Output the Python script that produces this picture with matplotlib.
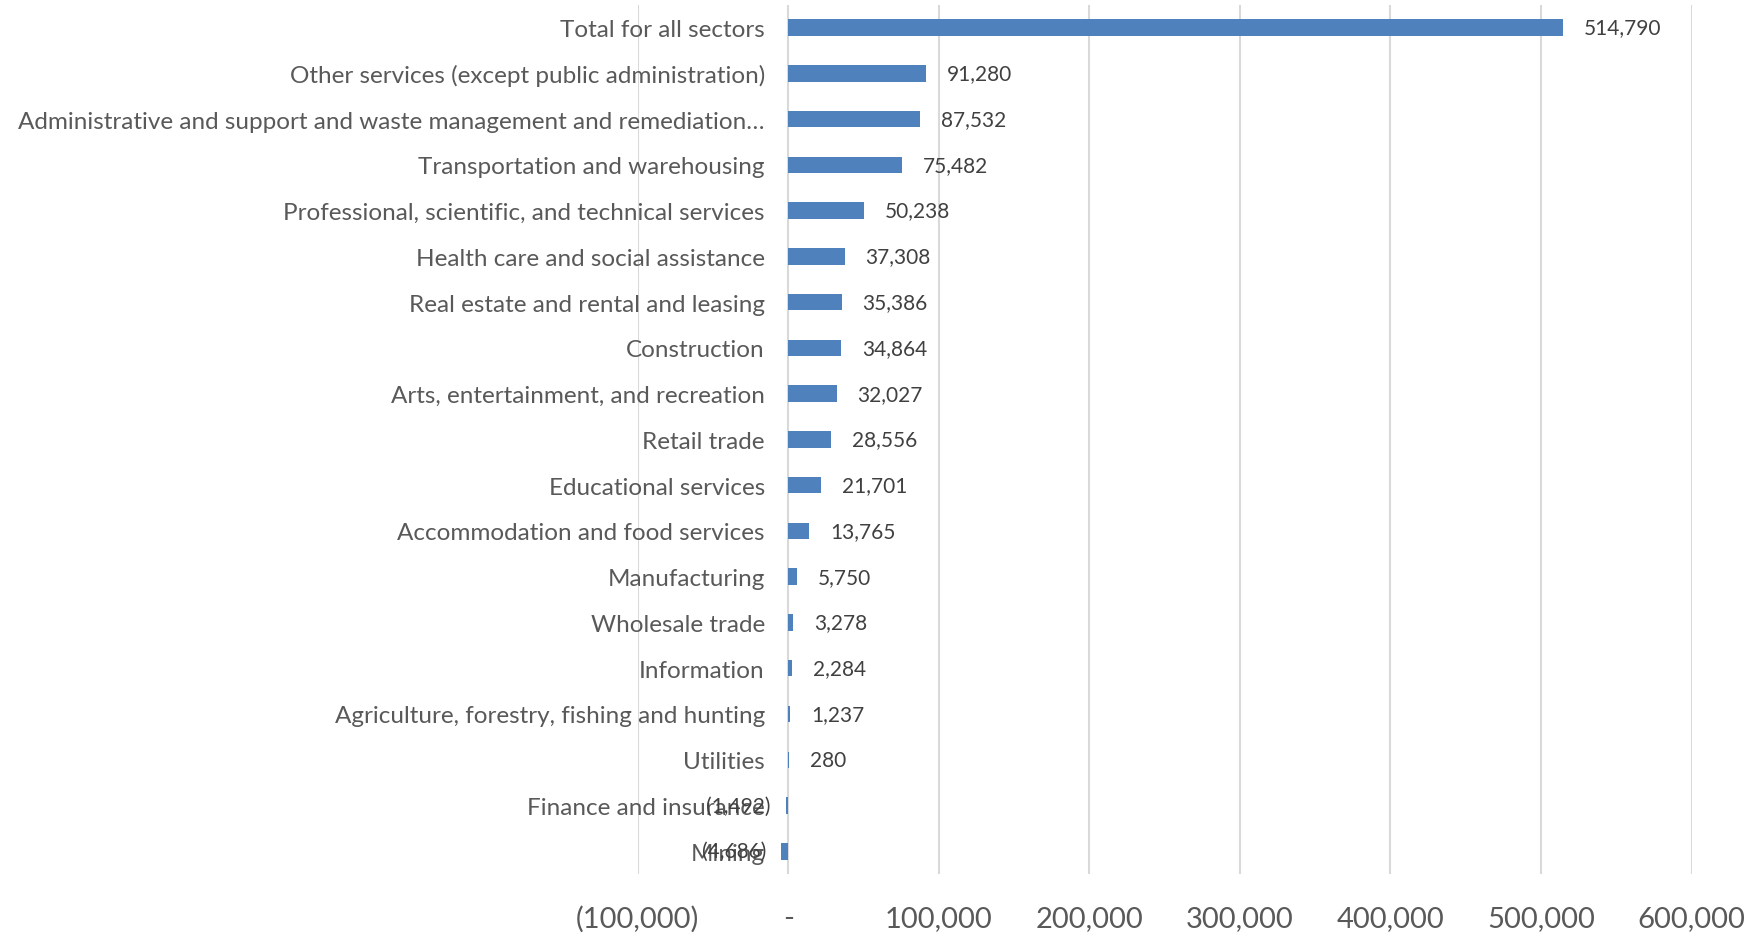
import matplotlib.pyplot as plt
from matplotlib.ticker import FuncFormatter

plt.rcParams['font.family'] = ['Lato', 'DejaVu Sans']

sectors = [
    "Total for all sectors",
    "Other services (except public administration)",
    "Administrative and support and waste management and remediation\u2026",
    "Transportation and warehousing",
    "Professional, scientific, and technical services",
    "Health care and social assistance",
    "Real estate and rental and leasing",
    "Construction",
    "Arts, entertainment, and recreation",
    "Retail trade",
    "Educational services",
    "Accommodation and food services",
    "Manufacturing",
    "Wholesale trade",
    "Information",
    "Agriculture, forestry, fishing and hunting",
    "Utilities",
    "Finance and insurance",
    "Mining",
]
values = [514790, 91280, 87532, 75482, 50238, 37308, 35386, 34864, 32027,
          28556, 21701, 13765, 5750, 3278, 2284, 1237, 280, -1492, -4686]
x_ticks = [-100000, 0, 100000, 200000, 300000, 400000, 500000, 600000]

BAR = '#4F81BD'
TXT = '#595959'


def fmt(v, _pos=None):
    if v == 0:
        return '-'
    if v < 0:
        return '({:,.0f})'.format(-v)
    return '{:,.0f}'.format(v)


fig = plt.figure(figsize=(17.62, 9.37), dpi=100)
ax = fig.add_axes([0.362, 0.066, 0.598, 0.928])

y = list(range(len(sectors)))
ax.barh(y, values, height=0.36, color=BAR, zorder=3)
ax.set_ylim(len(sectors) - 0.5, -0.5)
ax.set_xlim(-100000, 600000)
ax.set_xticks(x_ticks)
ax.xaxis.set_major_formatter(FuncFormatter(fmt))
ax.set_yticks(y)
ax.set_yticklabels(sectors)

ax.grid(axis='x', color='#D9D9D9', linewidth=1.5, zorder=0)
for s in ['top', 'right', 'bottom']:
    ax.spines[s].set_visible(False)
ax.spines['left'].set_position(('data', 0))
ax.spines['left'].set_visible(False)

ax.tick_params(axis='y', length=0, pad=17, labelsize=17.5, labelcolor=TXT)
ax.tick_params(axis='x', length=0, pad=22, labelsize=21, labelcolor=TXT)

for yi, v in zip(y, values):
    if v >= 0:
        ax.annotate(fmt(v), (v, yi), xytext=(15, 0), textcoords='offset points',
                    ha='left', va='center', fontsize=15, color='#404040', zorder=4)
    else:
        ax.annotate(fmt(v), (v, yi), xytext=(-11, 0), textcoords='offset points',
                    ha='right', va='center', fontsize=15, color='#404040', zorder=4)

fig.savefig('out.png', dpi=100)
